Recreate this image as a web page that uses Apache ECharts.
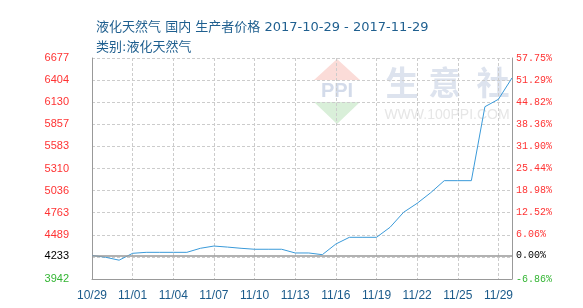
<!DOCTYPE html>
<html><head><meta charset="utf-8">
<script src="https://cdn.jsdelivr.net/npm/echarts@6/dist/echarts.min.js"></script>
<style>html,body{margin:0;padding:0;background:#fff}#c{width:583px;height:308px}</style>
</head><body><div id="c"></div>
<script>
const categories = ['10/29','10/30','10/31','11/01','11/02','11/03','11/04','11/05','11/06','11/07','11/08','11/09','11/10','11/11','11/12','11/13','11/14','11/15','11/16','11/17','11/18','11/19','11/20','11/21','11/22','11/23','11/24','11/25','11/26','11/27','11/28','11/29'];
const prices = [4233,4211,4175,4260,4272,4272,4272,4272,4322,4350,4337,4322,4310,4310,4310,4264,4264,4243,4375,4458,4458,4458,4582,4768,4879,5010,5159,5159,5159,6074,6166,6430];
const xTickLabels = ['10/29','11/01','11/04','11/07','11/10','11/13','11/16','11/19','11/22','11/25','11/29'];
const baseValue = 4233;
const yMin = 3942, yMax = 6677;
const gridValues = [3942,4215.5,4489,4762.5,5036,5309.5,5583,5856.5,6130,6403.5,6677];
const labelValues = [3942,4233,4489,4762.5,5036,5309.5,5583,5856.5,6130,6403.5,6677];
const leftTickLabels = ['3942','4233','4489','4763','5036','5310','5583','5857','6130','6404','6677'];
const rightTickLabels = ['-6.86%','0.00%','6.06%','12.52%','18.98%','25.44%','31.90%','38.36%','44.82%','51.29%','57.75%'];
const titleLines = ['液化天然气 国内 生产者价格 2017-10-29 - 2017-11-29','类别:液化天然气'];

function labelColor(v){
  const i = labelValues.indexOf(Number(v));
  if (i === 0) return '#33b533';
  if (i === 1) return '#000000';
  return '#ff3333';
}
const chart = echarts.init(document.getElementById('c'), null, {renderer:'canvas'});
chart.setOption({
  animation:false,
  title:{text:titleLines.join('\n'), left:91, top:13,
    textStyle:{fontFamily:'"DejaVu Sans", "Noto Sans CJK SC"', fontSize:13, fontWeight:'normal', color:'#1f5f8f', lineHeight:20}},
  graphic:[
    {type:'polygon', shape:{points:[[337,59],[360,80],[314,80]]}, style:{fill:'#fbdcd8'}, z:-1},
    {type:'polygon', shape:{points:[[314,102],[360,102],[337,124]]}, style:{fill:'#d9efd9'}, z:-1},
    {type:'text', x:337, y:91, style:{text:'PPI', fill:'#d3dbea', font:'bold 20px "Liberation Sans"', align:'center', verticalAlign:'middle'}, z:-1},
    {type:'text', x:402, y:82, style:{text:'生', fill:'#dde3ee', font:'bold 33px "Noto Sans CJK SC"', align:'center', verticalAlign:'middle'}, z:-1},
    {type:'text', x:445, y:82, style:{text:'意', fill:'#dde3ee', font:'bold 33px "Noto Sans CJK SC"', align:'center', verticalAlign:'middle'}, z:-1},
    {type:'text', x:493, y:82, style:{text:'社', fill:'#dde3ee', font:'bold 33px "Noto Sans CJK SC"', align:'center', verticalAlign:'middle'}, z:-1},
    {type:'text', x:447, y:115, style:{text:'WWW.100PPI.COM', fill:'#e6e6e6', font:'14px "Liberation Sans"', align:'center', verticalAlign:'middle'}, z:-1}
  ],
  grid:{left:92, right:71, top:58, bottom:29},
  xAxis:{type:'category', data:categories, boundaryGap:false,
    axisLine:{show:true, lineStyle:{color:'#999', width:1}},
    axisTick:{show:false},
    axisLabel:{interval:(i)=>i%3===0, margin:11, color:'#1a5a8a', fontFamily:'Liberation Sans', fontSize:12,
      formatter:(v,i)=>xTickLabels[Math.round(i/3)]},
    splitLine:{show:true, interval:(i)=>i%3===0 && i>0, lineStyle:{color:'#cccccc', type:[3,2], width:1}}
  },
  yAxis:[
    {type:'value', min:yMin, max:yMax, position:'left',
      axisLine:{show:true, lineStyle:{color:'#999'}},
      axisTick:{show:false, customValues:gridValues},
      axisLabel:{customValues:labelValues, margin:23, fontFamily:'Liberation Sans', fontSize:11,
        color:(v)=>labelColor(v),
        formatter:(v)=>leftTickLabels[labelValues.indexOf(Number(v))]},
      splitLine:{show:true, lineStyle:{color:'#cccccc', type:[3,2], width:1}}
    },
    {type:'value', min:yMin, max:yMax, position:'right',
      axisLine:{show:true, lineStyle:{color:'#999'}},
      axisTick:{show:false, customValues:gridValues},
      axisLabel:{customValues:labelValues, margin:4, fontFamily:'Liberation Mono', fontSize:10,
        color:(v)=>labelColor(v),
        formatter:(v)=>rightTickLabels[labelValues.indexOf(Number(v))]},
      splitLine:{show:false}
    }
  ],
  series:[{type:'line', data:prices, symbol:'none', lineStyle:{color:'#3a9ad9', width:1},
    markLine:{silent:true, symbol:'none', label:{show:false}, lineStyle:{color:'#999', type:'solid', width:1.5},
      data:[{yAxis:baseValue}]}
  }]
});
</script></body></html>
